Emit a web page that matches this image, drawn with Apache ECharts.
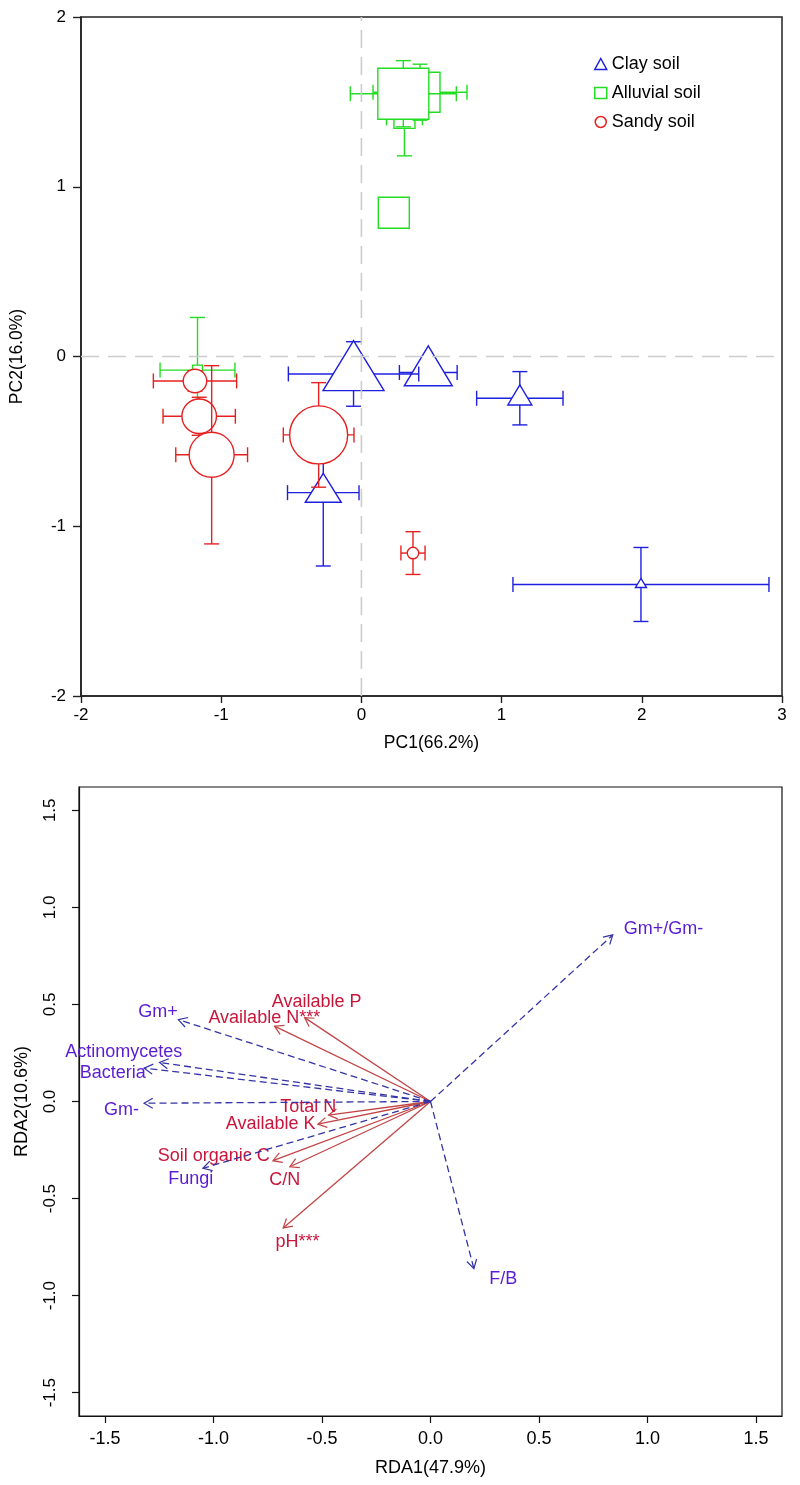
<!DOCTYPE html>
<html><head><meta charset="utf-8">
<script src="https://cdn.jsdelivr.net/npm/echarts@6/dist/echarts.min.js"></script>
<style>html,body{margin:0;padding:0;background:#fff}#c{width:800px;height:1485px}</style>
</head><body><div id="c"></div>
<script>
// ===== Panel 1: PCA scores (mean ± SE) =====
const soilTypes = ['Clay soil', 'Alluvial soil', 'Sandy soil'];
const pcXTicks = [-2, -1, 0, 1, 2, 3];
const pcYTicks = [-2, -1, 0, 1, 2];

const clayPC1 = [0.477, -0.056, 1.130, -0.272, 1.994];
const clayPC2 = [-0.094, -0.103, -0.246, -0.802, -1.343];
const clayErrPC1 = [0.206, 0.465, 0.308, 0.255, 0.913];
const clayErrPC2 = [0.05, 0.19, 0.157, 0.432, 0.218];

const alluvialPC1 = [-1.169, 0.231, 0.307, 0.418, 0.299];
const alluvialPC2 = [-0.080, 0.847, 1.406, 1.557, 1.548];
const alluvialErrPC1 = [0.267, 0.05, 0.128, 0.335, 0.378];
const alluvialErrPC2 = [0.31, 0.05, 0.224, 0.165, 0.195];

const sandyPC1 = [0.368, -0.305, -1.187, -1.157, -1.068];
const sandyPC2 = [-1.158, -0.462, -0.144, -0.352, -0.579];
const sandyErrPC1 = [0.086, 0.252, 0.297, 0.258, 0.256];
const sandyErrPC2 = [0.126, 0.308, 0.06, 0.112, 0.525];

// marker sizes (style, px)
const clayMarkerPx = [[48, 40], [61, 50], [24, 20], [36, 29], [11, 9]];
const alluvialMarkerPx = [10, 31, 21, 40, 51];
const sandyMarkerPx = [11.5, 58, 23.5, 34.5, 45];

// ===== Panel 2: RDA biplot =====
const rdaTicks = [-1.5, -1.0, -0.5, 0.0, 0.5, 1.0, 1.5];

const envNames = ['Available P', 'Available N***', 'Total N', 'Available K', 'Soil organic C', 'C/N', 'pH***'];
const envRDA1 = [-0.58, -0.719, -0.47, -0.519, -0.726, -0.648, -0.679];
const envRDA2 = [0.432, 0.388, -0.07, -0.117, -0.305, -0.336, -0.651];
const envLabelRDA1 = [-0.525, -0.766, -0.563, -0.737, -0.999, -0.672, -0.613];
const envLabelRDA2 = [0.514, 0.429, -0.029, -0.117, -0.282, -0.403, -0.723];

const spNames = ['Gm+', 'Actinomycetes', 'Bacteria', 'Gm-', 'Fungi', 'F/B', 'Gm+/Gm-'];
const spRDA1 = [-1.162, -1.249, -1.32, -1.32, -1.049, 0.2, 0.84];
const spRDA2 = [0.422, 0.201, 0.172, -0.009, -0.344, -0.861, 0.858];
const spLabelRDA1 = [-1.256, -1.414, -1.464, -1.424, -1.105, 0.335, 1.074];
const spLabelRDA2 = [0.46, 0.255, 0.145, -0.043, -0.40, -0.912, 0.889];

const FONT = '"Liberation Sans", Arial, sans-serif';
const BLUE = '#1f1fe0', GREEN = '#22dd22', RED = '#e62020';

function zip4(a, b, c, d) { return a.map((v, i) => [v, b[i], c[i], d[i]]); }

function pointRenderer(shape, color, sizes) {
  return function (params, api) {
    const i = params.dataIndex;
    const x = api.value(0), y = api.value(1), ex = api.value(2), ey = api.value(3);
    const c = api.coord([x, y]);
    const xl = api.coord([x - ex, y])[0], xr = api.coord([x + ex, y])[0];
    const yt = api.coord([x, y + ey])[1], yb = api.coord([x, y - ey])[1];
    const cap = 7.5;
    const st = { stroke: color, lineWidth: 1.4, fill: null };
    const ch = [
      { type: 'line', shape: { x1: xl, y1: c[1], x2: xr, y2: c[1] }, style: st },
      { type: 'line', shape: { x1: xl, y1: c[1] - cap, x2: xl, y2: c[1] + cap }, style: st },
      { type: 'line', shape: { x1: xr, y1: c[1] - cap, x2: xr, y2: c[1] + cap }, style: st },
      { type: 'line', shape: { x1: c[0], y1: yt, x2: c[0], y2: yb }, style: st },
      { type: 'line', shape: { x1: c[0] - cap, y1: yt, x2: c[0] + cap, y2: yt }, style: st },
      { type: 'line', shape: { x1: c[0] - cap, y1: yb, x2: c[0] + cap, y2: yb }, style: st }
    ];
    const ms = { stroke: color, lineWidth: 1.4, fill: '#fff' };
    if (shape === 'triangle') {
      const w = sizes[i][0], h = sizes[i][1];
      ch.push({ type: 'polygon', shape: { points: [[c[0], c[1] - 2 * h / 3], [c[0] + w / 2, c[1] + h / 3], [c[0] - w / 2, c[1] + h / 3]] }, style: ms });
    } else if (shape === 'rect') {
      const s = sizes[i];
      ch.push({ type: 'rect', shape: { x: c[0] - s / 2, y: c[1] - s / 2, width: s, height: s }, style: ms });
    } else {
      const s = sizes[i];
      ch.push({ type: 'circle', shape: { cx: c[0], cy: c[1], r: s / 2 }, style: ms });
    }
    return { type: 'group', children: ch };
  };
}

function arrowRenderer(lineColor, textColor, dashed, names) {
  return function (params, api) {
    const i = params.dataIndex;
    const o = api.coord([0, 0]);
    const p = api.coord([api.value(0), api.value(1)]);
    const lp = api.coord([api.value(2), api.value(3)]);
    const ang = Math.atan2(p[1] - o[1], p[0] - o[0]);
    const L = 10, a = Math.PI / 6;
    const h1 = [p[0] - L * Math.cos(ang - a), p[1] - L * Math.sin(ang - a)];
    const h2 = [p[0] - L * Math.cos(ang + a), p[1] - L * Math.sin(ang + a)];
    const ls = { stroke: lineColor, lineWidth: 1.3, fill: null };
    if (dashed) ls.lineDash = [7, 4];
    return {
      type: 'group', children: [
        { type: 'line', shape: { x1: o[0], y1: o[1], x2: p[0], y2: p[1] }, style: ls },
        { type: 'polyline', shape: { points: [h1, p, h2] }, style: { stroke: lineColor, lineWidth: 1.2, fill: null } },
        { type: 'text', x: lp[0], y: lp[1], style: { text: names[i], fill: textColor, font: '18px ' + FONT, align: 'center', verticalAlign: 'middle' } }
      ]
    };
  };
}

const axisTxt = { color: '#000', fontSize: 17, fontFamily: FONT };
const axisTxt2 = { color: '#000', fontSize: 18, fontFamily: FONT };
const nameTxt = { color: '#000', fontSize: 17.5, fontFamily: FONT };

const option = {
  backgroundColor: '#fff',
  animation: false,
  textStyle: { fontFamily: FONT },
  grid: [
    { left: 81, top: 17, width: 701, height: 679, show: true, borderColor: '#222', borderWidth: 1.5, containLabel: false },
    { left: 79, top: 787, width: 703, height: 629, show: true, borderColor: '#111', borderWidth: 1.2, containLabel: false }
  ],
  legend: {
    orient: 'vertical', left: 589, top: 50, itemWidth: 12, itemHeight: 11, itemGap: 11,
    textStyle: { color: '#000', fontSize: 18, fontFamily: FONT, padding: [0, 0, 0, 0] },
    data: [
      { name: soilTypes[0], icon: 'triangle', itemStyle: { color: '#fff', borderColor: BLUE, borderWidth: 1.5 } },
      { name: soilTypes[1], icon: 'rect', itemStyle: { color: '#fff', borderColor: GREEN, borderWidth: 1.5 } },
      { name: soilTypes[2], icon: 'circle', itemStyle: { color: '#fff', borderColor: RED, borderWidth: 1.5 } }
    ]
  },
  xAxis: [
    {
      gridIndex: 0, type: 'value', min: -2, max: 3, interval: 1,
      axisLine: { show: true, onZero: false, lineStyle: { color: '#222', width: 1.6 } },
      axisTick: { show: true, inside: false, length: 7, lineStyle: { color: '#222', width: 1.4 } },
      axisLabel: Object.assign({ margin: 11 }, axisTxt),
      splitLine: { show: false },
      name: 'PC1(66.2%)', nameLocation: 'middle', nameGap: 38, nameTextStyle: nameTxt
    },
    {
      gridIndex: 1, type: 'value', min: -1.62, max: 1.62,
      axisLine: { show: true, onZero: false, lineStyle: { color: '#111', width: 1.2 } },
      axisTick: { show: true, inside: false, length: 7, customValues: rdaTicks, lineStyle: { color: '#111', width: 1.2 } },
      axisLabel: Object.assign({ margin: 14, customValues: rdaTicks, formatter: v => v.toFixed(1) }, axisTxt2),
      splitLine: { show: false },
      name: 'RDA1(47.9%)', nameLocation: 'middle', nameGap: 43, nameTextStyle: axisTxt2
    }
  ],
  yAxis: [
    {
      gridIndex: 0, type: 'value', min: -2, max: 2, interval: 1,
      axisLine: { show: true, onZero: false, lineStyle: { color: '#222', width: 1.6 } },
      axisTick: { show: true, inside: false, length: 8, lineStyle: { color: '#222', width: 1.4 } },
      axisLabel: Object.assign({ margin: 15 }, axisTxt),
      splitLine: { show: false },
      name: 'PC2(16.0%)', nameLocation: 'middle', nameGap: 55, nameRotate: 90, nameTextStyle: nameTxt
    },
    {
      gridIndex: 1, type: 'value', min: -1.62, max: 1.62,
      axisLine: { show: true, onZero: false, lineStyle: { color: '#111', width: 1.2 } },
      axisTick: { show: true, inside: false, length: 7, customValues: rdaTicks, lineStyle: { color: '#111', width: 1.2 } },
      axisLabel: Object.assign({ margin: 20, rotate: 90, customValues: rdaTicks, formatter: v => v.toFixed(1) }, axisTxt),
      splitLine: { show: false },
      name: 'RDA2(10.6%)', nameLocation: 'middle', nameGap: 48, nameRotate: 90, nameTextStyle: axisTxt2
    }
  ],
  series: [
    {
      name: soilTypes[0], type: 'custom', xAxisIndex: 0, yAxisIndex: 0, z: 2,
      itemStyle: { color: BLUE },
      renderItem: pointRenderer('triangle', BLUE, clayMarkerPx),
      encode: { x: 0, y: 1 },
      data: zip4(clayPC1, clayPC2, clayErrPC1, clayErrPC2)
    },
    {
      name: soilTypes[1], type: 'custom', xAxisIndex: 0, yAxisIndex: 0, z: 2,
      itemStyle: { color: GREEN },
      renderItem: pointRenderer('rect', GREEN, alluvialMarkerPx),
      encode: { x: 0, y: 1 },
      data: zip4(alluvialPC1, alluvialPC2, alluvialErrPC1, alluvialErrPC2)
    },
    {
      name: soilTypes[2], type: 'custom', xAxisIndex: 0, yAxisIndex: 0, z: 2,
      itemStyle: { color: RED },
      renderItem: pointRenderer('circle', RED, sandyMarkerPx),
      encode: { x: 0, y: 1 },
      data: zip4(sandyPC1, sandyPC2, sandyErrPC1, sandyErrPC2)
    },
    {
      name: 'zeroH', type: 'line', xAxisIndex: 0, yAxisIndex: 0, z: 3, symbol: 'none', silent: true,
      lineStyle: { color: '#cccccc', width: 1.6, type: [18, 9] },
      data: [[pcXTicks[0], 0], [pcXTicks[pcXTicks.length - 1], 0]]
    },
    {
      name: 'zeroV', type: 'line', xAxisIndex: 0, yAxisIndex: 0, z: 3, symbol: 'none', silent: true,
      lineStyle: { color: '#cccccc', width: 1.6, type: [18, 9] },
      data: [[0, pcYTicks[0]], [0, pcYTicks[pcYTicks.length - 1]]]
    },
    {
      name: 'env', type: 'custom', xAxisIndex: 1, yAxisIndex: 1, z: 2,
      renderItem: arrowRenderer('#c24444', '#c8163a', false, envNames),
      encode: { x: 0, y: 1 },
      data: zip4(envRDA1, envRDA2, envLabelRDA1, envLabelRDA2)
    },
    {
      name: 'species', type: 'custom', xAxisIndex: 1, yAxisIndex: 1, z: 2,
      renderItem: arrowRenderer('#3434a6', '#5a1cd2', true, spNames),
      encode: { x: 0, y: 1 },
      data: zip4(spRDA1, spRDA2, spLabelRDA1, spLabelRDA2)
    }
  ]
};

const chart = echarts.init(document.getElementById('c'), null, { renderer: 'canvas' });
chart.setOption(option);
</script>
</body></html>
